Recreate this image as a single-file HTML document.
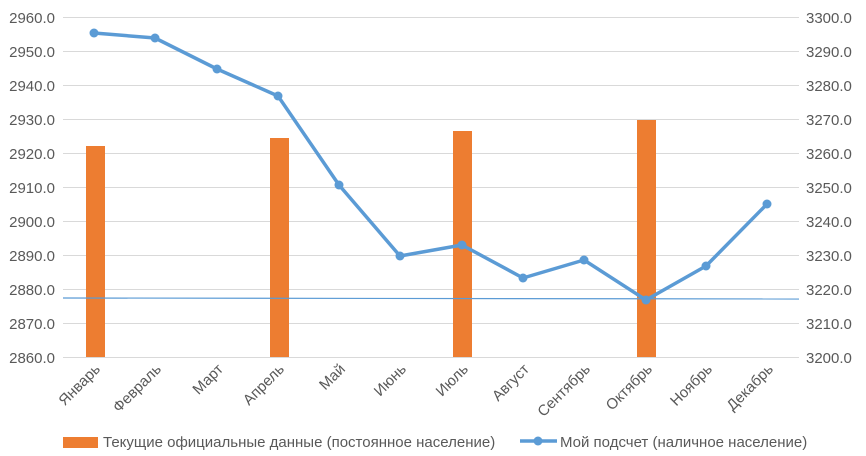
<!DOCTYPE html>
<html><head><meta charset="utf-8"><style>
html,body{margin:0;padding:0;background:#fff;}
svg{display:block;font-family:"Liberation Sans","DejaVu Sans",sans-serif;}
</style></head><body>
<svg width="866" height="456" viewBox="0 0 866 456" xmlns="http://www.w3.org/2000/svg">
<g stroke="#d9d9d9" stroke-width="1">
<line x1="63" x2="799" y1="17.5" y2="17.5"/><line x1="63" x2="799" y1="51.5" y2="51.5"/>
<line x1="63" x2="799" y1="85.5" y2="85.5"/><line x1="63" x2="799" y1="119.5" y2="119.5"/>
<line x1="63" x2="799" y1="153.5" y2="153.5"/><line x1="63" x2="799" y1="187.5" y2="187.5"/>
<line x1="63" x2="799" y1="221.5" y2="221.5"/><line x1="63" x2="799" y1="255.5" y2="255.5"/>
<line x1="63" x2="799" y1="289.5" y2="289.5"/><line x1="63" x2="799" y1="323.5" y2="323.5"/>
<line x1="63" x2="799" y1="357.5" y2="357.5"/>
</g>
<g font-size="15" fill="#595959" text-anchor="end">
<text x="55" y="23">2960.0</text><text x="55" y="57">2950.0</text><text x="55" y="91">2940.0</text>
<text x="55" y="125">2930.0</text><text x="55" y="159">2920.0</text><text x="55" y="193">2910.0</text>
<text x="55" y="227">2900.0</text><text x="55" y="261">2890.0</text><text x="55" y="295">2880.0</text>
<text x="55" y="329">2870.0</text><text x="55" y="363">2860.0</text>
</g>
<g font-size="15" fill="#595959" text-anchor="start">
<text x="806" y="23">3300.0</text><text x="806" y="57">3290.0</text><text x="806" y="91">3280.0</text>
<text x="806" y="125">3270.0</text><text x="806" y="159">3260.0</text><text x="806" y="193">3250.0</text>
<text x="806" y="227">3240.0</text><text x="806" y="261">3230.0</text><text x="806" y="295">3220.0</text>
<text x="806" y="329">3210.0</text><text x="806" y="363">3200.0</text>
</g>
<g fill="#ED7D31">
<rect x="86" y="146" width="19" height="211"/>
<rect x="270" y="138" width="19" height="219"/>
<rect x="453" y="131" width="19" height="226"/>
<rect x="637" y="120" width="19" height="237"/>
</g>
<line x1="63" y1="298" x2="799" y2="299" stroke="#5B9BD5" stroke-width="1.2"/>
<polyline fill="none" stroke="#5B9BD5" stroke-width="3.5" stroke-linejoin="round"
points="94,33 155,38 217,69 278,96 339,185 400,256 462,245 523,278 584,260 646,300 706,266 767,204"/>
<g fill="#5B9BD5">
<circle cx="94" cy="33" r="4.5"/><circle cx="155" cy="38" r="4.5"/><circle cx="217" cy="69" r="4.5"/>
<circle cx="278" cy="96" r="4.5"/><circle cx="339" cy="185" r="4.5"/><circle cx="400" cy="256" r="4.5"/>
<circle cx="462" cy="245" r="4.5"/><circle cx="523" cy="278" r="4.5"/><circle cx="584" cy="260" r="4.5"/>
<circle cx="646" cy="300" r="4.5"/><circle cx="706" cy="266" r="4.5"/><circle cx="767" cy="204" r="4.5"/>
</g>
<g font-size="15" fill="#595959" text-anchor="end">
<text transform="translate(101,370) rotate(-45)">Январь</text>
<text transform="translate(162,370) rotate(-45)">Февраль</text>
<text transform="translate(224,370) rotate(-45)">Март</text>
<text transform="translate(285,370) rotate(-45)">Апрель</text>
<text transform="translate(346,370) rotate(-45)">Май</text>
<text transform="translate(407,370) rotate(-45)">Июнь</text>
<text transform="translate(469,370) rotate(-45)">Июль</text>
<text transform="translate(530,370) rotate(-45)">Август</text>
<text transform="translate(591,370) rotate(-45)">Сентябрь</text>
<text transform="translate(653,370) rotate(-45)">Октябрь</text>
<text transform="translate(713,370) rotate(-45)">Ноябрь</text>
<text transform="translate(774,370) rotate(-45)">Декабрь</text>
</g>
<rect x="63" y="437" width="35" height="11" fill="#ED7D31"/>
<text x="103" y="447" font-size="15" fill="#595959">Текущие официальные данные (постоянное население)</text>
<line x1="520" y1="441" x2="557" y2="441" stroke="#5B9BD5" stroke-width="3.5"/>
<circle cx="538" cy="441" r="4.5" fill="#5B9BD5"/>
<text x="560" y="447" font-size="15" fill="#595959">Мой подсчет (наличное население)</text>
</svg>
</body></html>
